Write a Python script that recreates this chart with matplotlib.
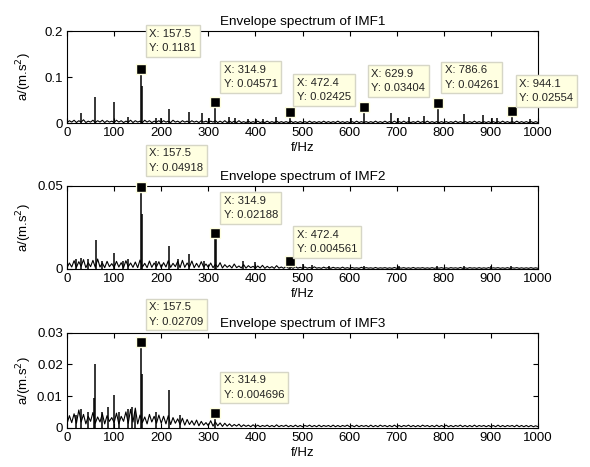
import numpy as np
import matplotlib.pyplot as plt

plt.rcParams['font.family'] = 'Liberation Sans'

# frequency bins of the baseline (Hz)
freq = np.arange(0, 1001, 5)

# noise floor of each envelope spectrum, in 1e-3 m/s^2
base_imf1 = np.array([
    1, 5, 2, 6, 1, 5, 2, 7, 1, 4, 2, 6, 1, 5, 2, 6, 1, 5, 2, 4,
    1, 6, 2, 5, 1, 4, 2, 6, 1, 5, 2, 4, 1, 6, 2, 5, 1, 4, 2, 5,
    1, 5, 2, 4, 1, 6, 2, 4, 1, 5, 2, 4, 1, 5, 2, 4, 1, 5, 2, 4,
    1, 4, 2, 5, 1, 4, 1, 5, 1, 4, 1, 4, 1, 5, 1, 3, 1, 4, 1, 3,
    1, 4, 1, 3, 1, 4, 1, 3, 1, 4, 1, 3, 1, 3, 1, 4, 1, 3, 1, 3,
    1, 3, 1, 4, 1, 3, 1, 3, 1, 4, 1, 3, 1, 3, 1, 4, 1, 3, 1, 3,
    1, 3, 1, 4, 1, 3, 1, 3, 1, 3, 1, 4, 1, 3, 1, 4, 1, 3, 1, 4,
    1, 3, 1, 4, 1, 3, 1, 3, 1, 4, 1, 3, 1, 4, 1, 3, 1, 3, 1, 3,
    1, 3, 1, 3, 1, 4, 1, 3, 1, 3, 1, 3, 1, 4, 1, 3, 1, 3, 1, 3,
    1, 3, 1, 3, 1, 4, 1, 3, 1, 3, 1, 4, 1, 3, 1, 3, 1, 3, 1, 3,
    1]) * 1e-3
base_imf2 = np.array([
    0.8, 3.6, 1.2, 5.0, 1.0, 4.4, 1.6, 5.6, 0.8, 3.8, 1.4, 5.2, 1.0, 6.0, 1.2, 3.6, 0.8, 4.6, 1.4, 3.2,
    1.0, 4.6, 1.2, 3.8, 0.8, 5.0, 1.4, 3.6, 1.0, 4.2, 0.8, 5.4, 1.2, 3.4, 0.8, 4.8, 1.0, 3.6, 1.4, 4.4,
    0.8, 3.8, 1.2, 5.0, 1.0, 3.4, 1.4, 4.6, 0.8, 5.2, 1.0, 3.6, 1.2, 4.8, 0.8, 3.4, 1.0, 4.4, 1.2, 3.0,
    1.0, 3.6, 0.8, 2.8, 1.2, 3.8, 0.6, 2.6, 1.0, 2.2, 0.6, 3.0, 0.8, 1.8, 0.6, 2.6, 0.5, 2.0, 0.8, 1.6,
    0.5, 1.8, 0.6, 2.2, 0.4, 1.6, 0.6, 1.4, 0.4, 2.0, 0.5, 1.2, 0.4, 1.6, 0.5, 1.1, 0.4, 1.4, 0.5, 1.0,
    0.4, 1.2, 0.5, 0.9, 0.4, 1.3, 0.5, 0.8, 0.4, 1.1, 0.5, 0.9, 0.4, 1.0, 0.5, 0.8, 0.4, 1.1, 0.4, 0.8,
    0.4, 0.9, 0.5, 0.7, 0.4, 1.0, 0.4, 0.8, 0.5, 0.7, 0.4, 0.9, 0.4, 0.7, 0.5, 0.8, 0.4, 0.7, 0.4, 0.9,
    0.4, 0.7, 0.5, 0.8, 0.4, 0.7, 0.4, 0.9, 0.4, 0.7, 0.5, 0.8, 0.4, 0.7, 0.4, 0.8, 0.4, 0.7, 0.5, 0.8,
    0.4, 0.7, 0.4, 0.8, 0.5, 0.7, 0.4, 0.9, 0.4, 0.7, 0.4, 0.8, 0.5, 0.7, 0.4, 0.8, 0.4, 0.7, 0.4, 0.8,
    0.4, 0.7, 0.5, 0.8, 0.4, 0.7, 0.4, 0.8, 0.4, 0.7, 0.5, 0.8, 0.4, 0.7, 0.4, 0.7, 0.4, 0.8, 0.4, 0.7,
    0.4]) * 1e-3
base_imf3 = np.array([
    1.2, 3.8, 1.6, 4.4, 1.4, 5.6, 1.8, 4.2, 1.2, 3.6, 2.0, 4.8, 1.4, 3.4, 1.8, 4.4, 1.2, 3.8, 2.0, 3.2,
    1.6, 4.6, 1.2, 3.6, 2.0, 5.0, 1.4, 5.8, 1.8, 6.2, 1.2, 4.0, 1.6, 3.4, 1.2, 4.2, 1.8, 3.6, 1.4, 4.0,
    1.4, 3.6, 1.2, 3.8, 1.0, 3.2, 1.4, 2.8, 1.0, 3.0, 0.8, 2.6, 1.0, 2.2, 0.8, 2.4, 0.6, 2.0, 0.8, 1.6,
    0.6, 2.2, 0.5, 1.8, 0.6, 1.5, 0.4, 1.4, 0.5, 1.2, 0.4, 1.0, 0.5, 1.1, 0.3, 0.9, 0.4, 0.8, 0.3, 0.9,
    0.3, 0.8, 0.3, 0.7, 0.4, 0.8, 0.3, 0.7, 0.3, 0.9, 0.3, 0.7, 0.4, 0.8, 0.3, 0.7, 0.3, 0.8, 0.3, 0.7,
    0.3, 0.7, 0.4, 0.8, 0.3, 0.7, 0.3, 0.8, 0.3, 0.7, 0.4, 0.7, 0.3, 0.8, 0.3, 0.7, 0.3, 0.7, 0.4, 0.8,
    0.3, 0.7, 0.3, 0.8, 0.3, 0.7, 0.4, 0.7, 0.3, 0.8, 0.3, 0.7, 0.3, 0.8, 0.4, 0.7, 0.3, 0.7, 0.3, 0.8,
    0.3, 0.7, 0.3, 0.7, 0.4, 0.8, 0.3, 0.7, 0.3, 0.7, 0.3, 0.8, 0.4, 0.7, 0.3, 0.7, 0.3, 0.8, 0.3, 0.7,
    0.3, 0.8, 0.3, 0.7, 0.3, 0.7, 0.4, 0.8, 0.3, 0.7, 0.3, 0.7, 0.3, 0.8, 0.3, 0.7, 0.4, 0.7, 0.3, 0.7,
    0.3, 0.7, 0.3, 0.8, 0.3, 0.7, 0.3, 0.7, 0.4, 0.7, 0.3, 0.8, 0.3, 0.7, 0.3, 0.7, 0.3, 0.7, 0.3, 0.6,
    0.3]) * 1e-3

# spectral lines (Hz, m/s^2)
peak_f_imf1 = [30, 60, 100, 129, 157.5, 160, 188, 200, 216, 258, 287, 301, 314.9, 343, 357,
               385, 401, 416, 443, 472.4, 603, 629.9, 688, 702, 726, 758, 786.6, 843, 884,
               902, 913, 944.1, 984]
peak_a_imf1 = [0.022, 0.057, 0.045, 0.013, 0.1181, 0.080, 0.010, 0.010, 0.030, 0.024, 0.022,
               0.010, 0.04571, 0.013, 0.010, 0.009, 0.009, 0.009, 0.012, 0.02425, 0.011,
               0.03404, 0.022, 0.010, 0.012, 0.015, 0.04261, 0.019, 0.017, 0.010, 0.010,
               0.02554, 0.008]
peak_f_imf2 = [20, 30, 45, 61, 75, 100, 118, 130, 157.5, 160, 188, 216, 235, 258, 290,
               314.9, 317, 374, 400, 472.4, 500, 520, 557, 630, 705, 786, 843, 900, 943]
peak_a_imf2 = [0.006, 0.0065, 0.006, 0.0176, 0.005, 0.0097, 0.005, 0.006, 0.04918, 0.033,
               0.005, 0.0141, 0.006, 0.009, 0.005, 0.02188, 0.018, 0.005, 0.004, 0.004561,
               0.003, 0.0025, 0.002, 0.0018, 0.002, 0.0015, 0.0018, 0.0015, 0.0015]
peak_f_imf3 = [20, 30, 45, 57, 60, 75, 87, 100, 110, 130, 137, 145, 157.5, 160, 188, 216,
               240, 314.9]
peak_a_imf3 = [0.004, 0.006, 0.005, 0.0095, 0.020, 0.005, 0.0065, 0.0102, 0.005, 0.006,
               0.0065, 0.005, 0.02709, 0.017, 0.005, 0.0118, 0.004, 0.004696]

# data tips
tip_x_imf1 = [157.5, 314.9, 472.4, 629.9, 786.6, 944.1]
tip_y_imf1 = [0.1181, 0.04571, 0.02425, 0.03404, 0.04261, 0.02554]
tip_x_imf2 = [157.5, 314.9, 472.4]
tip_y_imf2 = [0.04918, 0.02188, 0.004561]
tip_x_imf3 = [157.5, 314.9]
tip_y_imf3 = [0.02709, 0.004696]

titles = ['Envelope spectrum of IMF1', 'Envelope spectrum of IMF2', 'Envelope spectrum of IMF3']
ylims = [0.2, 0.05, 0.03]
yticks = [[0, 0.1, 0.2], [0, 0.05], [0, 0.01, 0.02, 0.03]]

# layout (figure fractions) and tip box offsets in pixels (right, up)
positions = [[0.1136, 0.7366, 0.7983, 0.197],
             [0.1136, 0.424, 0.7983, 0.178],
             [0.1136, 0.0842, 0.7983, 0.203]]
tip_offsets = [[(4.5, 11.7), (4.7, 9.3), (3.8, 5.8), (4, 10.6), (3.5, 10), (4, 4.6)],
               [(4.5, 11), (4.7, 8.9), (3.8, 3.5)],
               [(4.5, 11.9), (4.7, 9.5)]]

bases = [base_imf1, base_imf2, base_imf3]
peaks = [(peak_f_imf1, peak_a_imf1), (peak_f_imf2, peak_a_imf2), (peak_f_imf3, peak_a_imf3)]
tips = [(tip_x_imf1, tip_y_imf1), (tip_x_imf2, tip_y_imf2), (tip_x_imf3, tip_y_imf3)]

fig = plt.figure(figsize=(5.9, 4.67), dpi=100)
pad_px = 3.6
px2pt = 72 / 100

for i in range(3):
    ax = fig.add_axes(positions[i])
    ax.plot(freq, bases[i], color='black', lw=0.8, zorder=2)
    ax.vlines(peaks[i][0], 0, peaks[i][1], color='black', lw=1.1, zorder=2)

    ax.set_xlim(0, 1000)
    ax.set_ylim(0, ylims[i])
    ax.set_xticks(np.arange(0, 1001, 100))
    ax.set_yticks(yticks[i])
    ax.set_yticklabels([f'{v:g}' for v in yticks[i]])
    ax.tick_params(direction='in', top=True, right=True, length=3.5, width=0.8,
                   labelsize=9.5, pad=3)
    for sp in ax.spines.values():
        sp.set_linewidth(0.8)

    ax.set_title(titles[i], fontsize=9.7, pad=4)
    ax.set_xlabel('f/Hz', fontsize=9.5, labelpad=2)
    ax.set_ylabel('a/(m.s$^2$)', fontsize=9.5)
    ax.yaxis.set_label_coords(-0.07, 0.5)

    tx, ty = tips[i]
    for j in range(len(tx)):
        ax.plot(tx[j], ty[j], 's', ms=6.5, mfc='black', mec='#ffffe1', mew=1.0,
                zorder=6, clip_on=False)
        dx, dy = tip_offsets[i][j]
        ax.annotate(f'X: {tx[j]:g}\nY: {ty[j]:.4g}', xy=(tx[j], ty[j]),
                    xytext=((dx + pad_px) * px2pt, (dy + pad_px) * px2pt),
                    textcoords='offset points', ha='left', va='bottom',
                    fontsize=8.1, linespacing=1.55, color='#222222', zorder=7,
                    bbox=dict(boxstyle='square,pad=0.32', fc='#ffffe1', ec='#d6d6c6', lw=1.0))

fig.savefig('out.png', dpi=100)
